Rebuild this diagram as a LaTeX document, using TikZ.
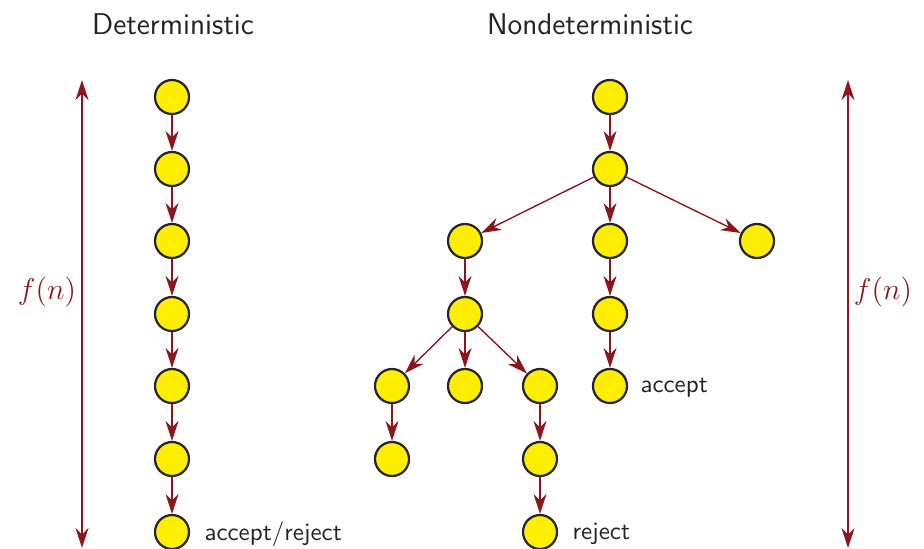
\documentclass[tikz,border=0pt]{standalone}
\usetikzlibrary{arrows.meta}
\definecolor{arr}{RGB}{140,22,30}
\definecolor{yel}{RGB}{255,238,0}
\definecolor{txt}{RGB}{35,35,35}
\begin{document}
\begin{tikzpicture}[x=0.4pt,y=-0.4pt,
  tip/.style={},
  st/.style={circle,draw=black!85,line width=0.9pt,fill=yel,minimum size=13.6pt,inner sep=0pt},
  ar/.style={draw=arr,line width=0.55pt,-{Stealth[length=8pt,width=5.2pt,inset=2.6pt]}},
  big/.style={draw=arr,line width=0.55pt,{Stealth[length=8pt,width=5.2pt,inset=2.6pt]}-{Stealth[length=8pt,width=5.2pt,inset=2.6pt]}},
  lab/.style={font=\sffamily,text=txt,anchor=west,inner sep=0pt},
  ttl/.style={font=\sffamily\large,text=txt}]
\useasboundingbox (0,0) rectangle (924,548);
% titles
\node[ttl] (t1) at (173,24) {Deterministic};
\node[ttl] (t2) at (590,24) {Nondeterministic};
% deterministic chain
\foreach \i/\y in {1/97,2/169,3/241,4/314,5/386,6/459,7/532}
  \node[st] (d\i) at (172,\y) {};
\foreach \a/\b in {1/2,2/3,3/4,4/5,5/6,6/7}
  \draw[ar] (d\a) -- (d\b);
\node[lab] (dl) at (204,534) {accept/reject};
% nondeterministic tree
\node[st] (n1) at (610,97) {};
\node[st] (n2) at (610,169) {};
\node[st] (n3a) at (465,241) {};
\node[st] (n3b) at (610,241) {};
\node[st] (n3c) at (757,241) {};
\node[st] (n4a) at (465,314) {};
\node[st] (n4b) at (610,314) {};
\node[st] (n5a) at (392,386) {};
\node[st] (n5b) at (465,386) {};
\node[st] (n5c) at (540,386) {};
\node[st] (n5d) at (610,386) {};
\node[st] (n6a) at (392,459) {};
\node[st] (n6c) at (540,459) {};
\node[st] (n7c) at (540,532) {};
\draw[ar] (n1) -- (n2);
\draw[ar] (n2) -- (n3a);
\draw[ar] (n2) -- (n3b);
\draw[ar] (n2) -- (n3c);
\draw[ar] (n3a) -- (n4a);
\draw[ar] (n3b) -- (n4b);
\draw[ar] (n4a) -- (n5a);
\draw[ar] (n4a) -- (n5b);
\draw[ar] (n4a) -- (n5c);
\draw[ar] (n4b) -- (n5d);
\draw[ar] (n5a) -- (n6a);
\draw[ar] (n5c) -- (n6c);
\draw[ar] (n6c) -- (n7c);
\node[lab] (acc) at (640,388) {accept};
\node[lab] (rej) at (572,534) {reject};
% f(n) arrows
\coordinate (la) at (82,80);
\coordinate (lb) at (82,548);
\coordinate (ra) at (848,80);
\coordinate (rb) at (848,548);
\draw[big] (lb) -- (la);
\draw[big] (rb) -- (ra);
\node[text=arr,font=\large] (fl) at (47,292) {$f(n)$};
\node[text=arr,font=\large] (fr) at (883,292) {$f(n)$};
\end{tikzpicture}
\end{document}
